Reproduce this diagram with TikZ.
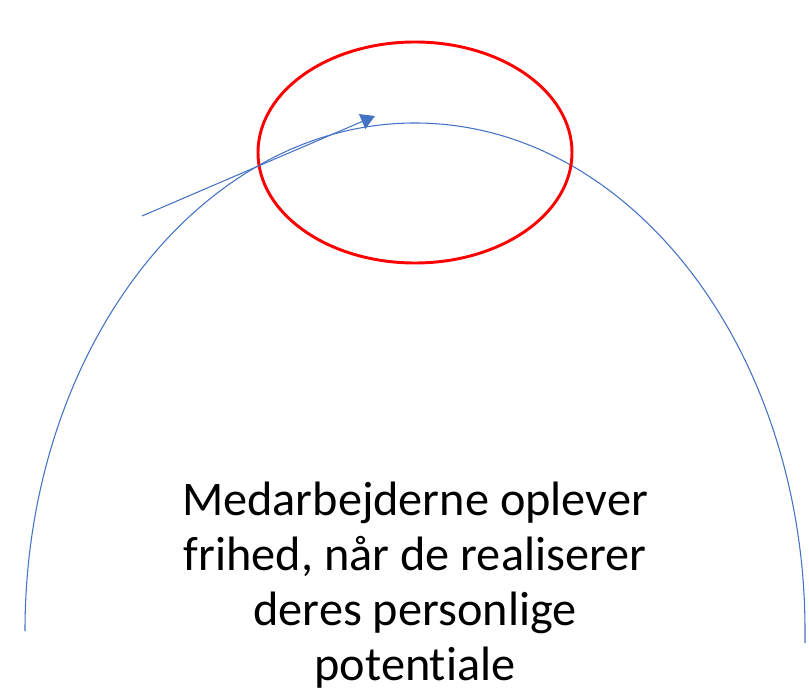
\documentclass[tikz,border=0pt]{standalone}
\usepackage{fontspec}
\setmainfont[Ligatures=NoCommon]{Carlito}
\usetikzlibrary{arrows.meta, shapes.geometric}
\definecolor{buebla}{RGB}{68, 114, 196}
\definecolor{ringrod}{RGB}{255, 0, 0}

\begin{document}
\begin{tikzpicture}[
        x=0.75pt, y=0.75pt,
        bue/.style={draw=buebla, line width=0.8pt},
        ring/.style={
            ellipse,
            draw=ringrod,
            line width=2.2pt,
            minimum width=235.5pt,
            minimum height=165.75pt,
            inner sep=0pt
        },
        pil/.style={-{Triangle[length=10.5pt, width=12pt]}, draw=buebla, line width=0.8pt},
        tekst/.style={
            align=center,
            font=\fontsize{36.2}{41.25}\selectfont,
            inner sep=0pt
        }
    ]
        \useasboundingbox (0,0) rectangle (809,696);

        % buen
        \coordinate (bueV) at (25,65);
        \draw[bue] (bueV) arc[start angle=180, end angle=0, x radius=390, y radius=508]
            coordinate (bueH) -- ++(0,-12);

        % den roede ring
        \node[ring] (fokus) at (415,543.5) {};

        % pilen
        \coordinate (pilStart) at (142,480);
        \coordinate (pilSlut) at (375,580);
        \draw[pil] (pilStart) -- (pilSlut);

        \node[tekst] (udsagn) at (415,111) {
            Medarbejderne oplever\\
            frihed, når de realiserer\\
            deres personlige\\
            potentiale
        };
    \end{tikzpicture}
\end{document}
